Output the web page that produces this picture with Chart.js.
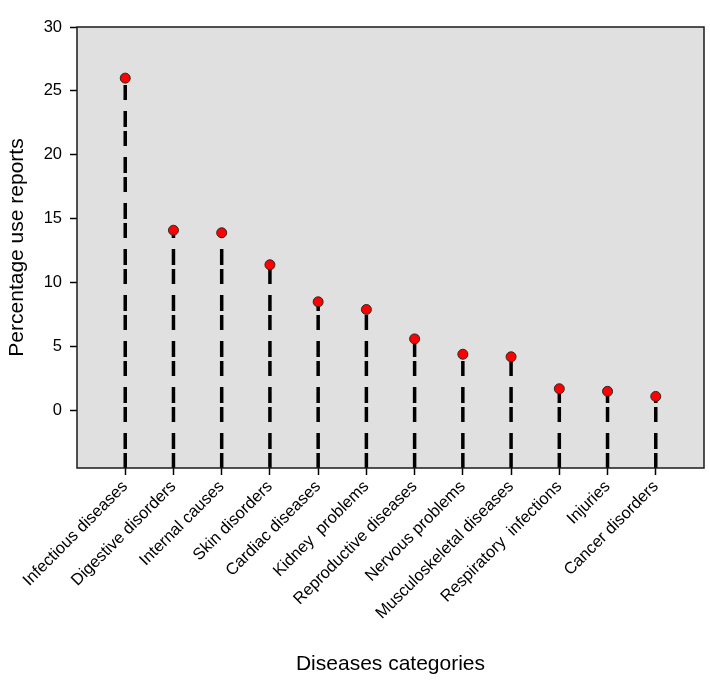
<!DOCTYPE html>
<html>
<head>
<meta charset="utf-8">
<script src="https://cdn.jsdelivr.net/npm/chart.js@4"></script>
<style>
  html, body { margin: 0; padding: 0; background: #fff; }
  #wrap { width: 710px; height: 680px; }
</style>
</head>
<body>
<div id="wrap"><canvas id="lolli" width="710" height="680"></canvas></div>
<script>
// data
var categories = [
  'Infectious diseases',
  'Digestive disorders',
  'Internal causes',
  'Skin disorders',
  'Cardiac diseases',
  'Kidney  problems',
  'Reproductive diseases',
  'Nervous problems',
  'Musculoskeletal diseases',
  'Respiratory  infections',
  'Injuries',
  'Cancer disorders'
];
var percentUse = [26.0, 14.1, 13.9, 11.4, 8.5, 7.9, 5.6, 4.4, 4.2, 1.7, 1.5, 1.1];
var yTicks = [0, 5, 10, 15, 20, 25, 30];
var yMin = -4.5, yMax = 30;

// stems: bottom of plot -> value, null breaks between stems
var stemData = [];
percentUse.forEach(function (v, i) {
  stemData.push({ x: i, y: yMin });
  stemData.push({ x: i, y: v });
  stemData.push({ x: i, y: null });
});
var dotData = percentUse.map(function (v, i) { return { x: i, y: v }; });

// gray panel + frame
var panel = {
  id: 'panel',
  beforeDatasetsDraw: function (chart) {
    var a = chart.chartArea, c = chart.ctx;
    c.save();
    c.fillStyle = '#e0e0e0';
    c.fillRect(a.left, a.top, a.right - a.left, a.bottom - a.top);
    c.restore();
  },
  afterDatasetsDraw: function (chart) {
    var a = chart.chartArea, c = chart.ctx;
    c.save();
    c.strokeStyle = '#1a1a1a';
    c.lineWidth = 1.5;
    c.strokeRect(a.left, a.top, a.right - a.left, a.bottom - a.top);
    c.restore();
  }
};

var ctx = document.getElementById('lolli').getContext('2d');
var chart = new Chart(ctx, {
  type: 'line',
  data: {
    datasets: [{
      type: 'scatter',
      data: dotData,
      pointRadius: 5,
      pointBackgroundColor: '#ff0000',
      pointBorderColor: '#2a2a2a',
      pointBorderWidth: 1,
      showLine: false
    }, {
      data: stemData,
      borderColor: '#000',
      borderWidth: 3.5,
      borderDash: [15, 4, 16, 11],
      borderCapStyle: 'butt',
      pointRadius: 0,
      spanGaps: false,
      tension: 0
    }]
  },
  options: {
    responsive: false,
    animation: false,
    layout: { padding: { top: 27, right: 5, left: 0, bottom: 0 } },
    plugins: { legend: { display: false }, tooltip: { enabled: false } },
    scales: {
      x: {
        type: 'linear',
        min: -1,
        max: 12,
        afterBuildTicks: function (s) {
          s.ticks = categories.map(function (c, i) { return { value: i }; });
        },
        afterFit: function (s) { s.height = 212; },
        grid: { drawOnChartArea: false, tickLength: 7, tickColor: '#000', tickWidth: 1.5 },
        border: { display: false },
        ticks: {
          autoSkip: false,
          minRotation: 45,
          maxRotation: 45,
          padding: 2,
          color: '#000',
          font: { family: 'Liberation Sans, Arial', size: 16.5 },
          callback: function (v) { return categories[v]; }
        },
        title: {
          display: true,
          text: 'Diseases categories',
          color: '#000',
          font: { family: 'Liberation Sans, Arial', size: 21 },
          padding: { top: 0, bottom: 3 }
        }
      },
      y: {
        min: yMin,
        max: yMax,
        afterBuildTicks: function (s) {
          s.ticks = yTicks.map(function (t) { return { value: t }; });
        },
        afterFit: function (s) { s.width = 77; },
        grid: { drawOnChartArea: false, tickLength: 7, tickColor: '#000', tickWidth: 1.5 },
        border: { display: false },
        ticks: {
          padding: 8,
          color: '#000',
          font: { family: 'Liberation Sans, Arial', size: 16.5 }
        },
        title: {
          display: true,
          text: 'Percentage use reports',
          color: '#000',
          font: { family: 'Liberation Sans, Arial', size: 21 },
          padding: { top: 5, bottom: 0 }
        }
      }
    }
  },
  plugins: [panel]
});
</script>
</body>
</html>
